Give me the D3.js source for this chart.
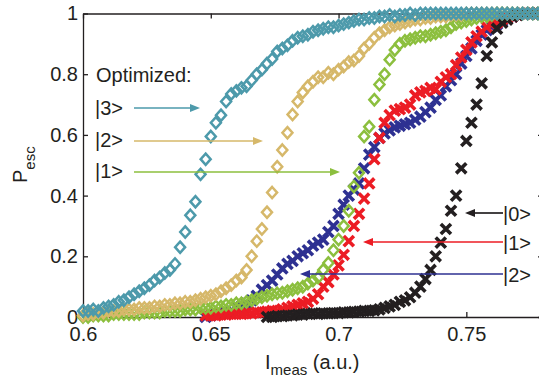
<!DOCTYPE html>
<html>
<head>
<meta charset="utf-8">
<script src="https://cdn.jsdelivr.net/npm/d3@7"></script>
<style>
  body { margin: 0; background: #fff; }
  svg { display: block; }
  text { font-family: "Liberation Sans", Arial, Helvetica, sans-serif; fill: #231f20; }
</style>
</head>
<body>
<svg id="chart" width="539" height="379"></svg>
<script>
// measured current (a.u.), shared by every series
const current = [
  0.600, 0.602, 0.604, 0.606, 0.608, 0.610, 0.612, 0.614, 0.616, 0.618,
  0.620, 0.622, 0.624, 0.626, 0.628, 0.630, 0.632, 0.634, 0.636, 0.638,
  0.640, 0.642, 0.644, 0.646, 0.648, 0.650, 0.652, 0.654, 0.656, 0.658,
  0.660, 0.662, 0.664, 0.666, 0.668, 0.670, 0.672, 0.674, 0.676, 0.678,
  0.680, 0.682, 0.684, 0.686, 0.688, 0.690, 0.692, 0.694, 0.696, 0.698,
  0.700, 0.702, 0.704, 0.706, 0.708, 0.710, 0.712, 0.714, 0.716, 0.718,
  0.720, 0.722, 0.724, 0.726, 0.728, 0.730, 0.732, 0.734, 0.736, 0.738,
  0.740, 0.742, 0.744, 0.746, 0.748, 0.750, 0.752, 0.754, 0.756, 0.758,
  0.760, 0.762, 0.764, 0.766, 0.768, 0.770, 0.772, 0.774, 0.776, 0.778,
  0.780
];

// optimized readout (diamonds)
const opt3 = [
  0.02, 0.02, 0.025, 0.02, 0.03, 0.035, 0.04, 0.05, 0.055, 0.065,
  0.075, 0.085, 0.095, 0.105, 0.12, 0.13, 0.145, 0.155, 0.175, 0.23,
  0.28, 0.335, 0.38, 0.47, 0.52, 0.595, 0.64, 0.665, 0.71, 0.735,
  0.745, 0.755, 0.76, 0.78, 0.80, 0.815, 0.835, 0.85, 0.875, 0.885,
  0.895, 0.91, 0.92, 0.925, 0.93, 0.94, 0.945, 0.95, 0.955, 0.955,
  0.96, 0.965, 0.97, 0.975, 0.98, 0.98, 0.985, 0.985, 0.99, 0.99,
  0.995, 0.99, 0.995, 0.995, 1, 0.995, 1, 1, 1, 1,
  1, 1, 1, 1, 1, 1, 1, 1, 1, 1,
  1, 1, 1, 1, 1, 1, 1, 1, 1, 1,
  1
];
const opt2 = [
  0.005, 0.01, 0.01, 0.015, 0.015, 0.02, 0.02, 0.02, 0.025, 0.025,
  0.025, 0.03, 0.03, 0.03, 0.035, 0.035, 0.04, 0.04, 0.045, 0.045,
  0.05, 0.05, 0.055, 0.06, 0.065, 0.07, 0.075, 0.085, 0.095, 0.105,
  0.12, 0.13, 0.155, 0.2, 0.25, 0.29, 0.345, 0.41, 0.495, 0.55,
  0.607, 0.667, 0.71, 0.74, 0.76, 0.775, 0.79, 0.79, 0.805, 0.80,
  0.815, 0.825, 0.84, 0.845, 0.86, 0.885, 0.90, 0.92, 0.935, 0.945,
  0.955, 0.96, 0.965, 0.97, 0.975, 0.98, 0.98, 0.985, 0.985, 0.99,
  0.99, 0.99, 0.995, 0.995, 0.995, 1, 1, 1, 1, 1,
  1, 1, 1, 1, 1, 1, 1, 1, 1, 1,
  1
];
const opt1 = [
  0, 0, 0.005, 0.005, 0.005, 0.005, 0.01, 0.01, 0.01, 0.01,
  0.01, 0.01, 0.015, 0.015, 0.015, 0.015, 0.02, 0.02, 0.02, 0.02,
  0.025, 0.025, 0.025, 0.03, 0.03, 0.03, 0.035, 0.035, 0.04, 0.04,
  0.045, 0.045, 0.05, 0.055, 0.06, 0.065, 0.07, 0.075, 0.078, 0.08,
  0.085, 0.09, 0.095, 0.10, 0.11, 0.12, 0.13, 0.155, 0.178, 0.22,
  0.255, 0.30, 0.35, 0.43, 0.475, 0.595, 0.627, 0.716, 0.766, 0.80,
  0.848, 0.88, 0.90, 0.91, 0.915, 0.92, 0.925, 0.925, 0.93, 0.935,
  0.94, 0.945, 0.955, 0.965, 0.97, 0.975, 0.98, 0.985, 0.99, 0.99,
  0.995, 1, 1, 1, 1, 1, 1, 1, 1, 1,
  1
];

// standard readout (crosses), null = not measured
const std0 = [
  null, null, null, null, null, null, null, null, null, null,
  null, null, null, null, null, null, null, null, null, null,
  null, null, null, null, null, null, null, null, null, null,
  null, null, null, null, null, null, 0.0, 0.0, 0.003, 0.003,
  0.005, 0.005, 0.008, 0.008, 0.01, 0.012, 0.01, 0.012, 0.012, 0.013,
  0.013, 0.015, 0.015, 0.017, 0.018, 0.02, 0.02, 0.022, 0.025, 0.03,
  0.035, 0.04, 0.05, 0.055, 0.065, 0.08, 0.10, 0.125, 0.155, 0.20,
  0.245, 0.29, 0.35, 0.40, 0.49, 0.58, 0.64, 0.70, 0.77, 0.86,
  0.905, 0.95, 0.97, 0.98, 0.99, 0.995, 1, 1, 1, 1,
  1
];
const std1 = [
  null, null, null, null, null, null, null, null, null, null,
  null, null, null, null, null, null, null, null, null, null,
  null, null, null, null, 0.005, 0.005, 0.005, 0.008, 0.008, 0.01,
  0.01, 0.01, 0.012, 0.012, 0.015, 0.015, 0.018, 0.02, 0.02, 0.025,
  0.03, 0.035, 0.04, 0.045, 0.05, 0.06, 0.075, 0.10, 0.115, 0.14,
  0.17, 0.205, 0.25, 0.30, 0.34, 0.39, 0.44, 0.52, 0.59, 0.64,
  0.665, 0.68, 0.685, 0.69, 0.70, 0.73, 0.74, 0.745, 0.755, 0.75,
  0.775, 0.79, 0.80, 0.83, 0.855, 0.88, 0.905, 0.925, 0.94, 0.955,
  0.965, 0.97, 0.98, 0.985, 0.99, 0.995, 1, 1, 1, 1,
  1
];
const std2 = [
  null, null, null, null, null, null, null, null, null, null,
  null, null, null, null, null, null, null, null, null, null,
  null, null, null, null, 0.0, 0.005, 0.008, 0.01, 0.015, 0.02,
  0.03, 0.035, 0.045, 0.055, 0.07, 0.09, 0.105, 0.12, 0.14, 0.16,
  0.175, 0.185, 0.20, 0.21, 0.22, 0.235, 0.245, 0.255, 0.28, 0.30,
  0.34, 0.37, 0.40, 0.42, 0.44, 0.49, 0.535, 0.56, 0.59, 0.605,
  0.615, 0.625, 0.63, 0.635, 0.64, 0.65, 0.66, 0.675, 0.69, 0.715,
  0.73, 0.76, 0.78, 0.80, 0.835, 0.86, 0.885, 0.91, 0.93, 0.945,
  0.957, 0.965, 0.975, 0.985, 0.99, 0.995, 1, 1, 1, 1,
  1
];

const xTicks = [0.6, 0.65, 0.7, 0.75];
const yTicks = [0, 0.2, 0.4, 0.6, 0.8, 1];

const teal = '#4d9aab', tan = '#d6b86a', green = '#8cbf3e';
const red = '#ec1c24', blue = '#2e3192', black = '#231f20';

const svg = d3.select('#chart');
const margin = { top: 13.5, left: 83, bottom: 62, right: -4 };
const width = 539, height = 379;

const x = d3.scaleLinear().domain([0.6, 0.78]).range([margin.left, width - margin.right]);
const y = d3.scaleLinear().domain([0, 1]).range([height - margin.bottom, margin.top]);

const fmt = d => String(d);

// axes box, ticks inward like matlab
svg.append('g')
  .attr('transform', `translate(0,${y(0)})`)
  .call(d3.axisBottom(x).tickValues(xTicks).tickFormat(fmt).tickSizeInner(-5).tickSizeOuter(0).tickPadding(10));
svg.append('g')
  .attr('transform', `translate(0,${y(1)})`)
  .call(d3.axisTop(x).tickValues(xTicks).tickFormat('').tickSizeInner(-5).tickSizeOuter(0));
svg.append('g')
  .attr('transform', `translate(${x(0.6)},0)`)
  .call(d3.axisLeft(y).tickValues(yTicks).tickFormat(fmt).tickSizeInner(-5).tickSizeOuter(0).tickPadding(5));
svg.append('g')
  .attr('transform', `translate(${x(0.78)},0)`)
  .call(d3.axisRight(y).tickValues(yTicks).tickFormat('').tickSizeInner(-5).tickSizeOuter(0));

svg.selectAll('.domain, .tick line').attr('stroke', black).attr('stroke-width', 1.3);
svg.selectAll('.tick text').attr('font-size', 20).attr('fill', black)
  .attr('font-family', '"Liberation Sans", Arial, sans-serif');

// series
const diamond = 'M0,-5.6L5,0L0,5.6L-5,0Z';
const cross = 'M-3.8,-3.8L3.8,3.8M-3.8,3.8L3.8,-3.8';

function points(values) {
  return current.map((c, i) => ({ c, v: values[i] })).filter(d => d.v !== null);
}

function drawSeries(values, color, shape) {
  const g = svg.append('g');
  g.selectAll('path')
    .data(points(values))
    .enter()
    .append('path')
    .attr('transform', d => `translate(${x(d.c)},${y(d.v)})`)
    .attr('d', shape === 'diamond' ? diamond : cross)
    .attr('fill', 'none')
    .attr('stroke', color)
    .attr('stroke-width', shape === 'diamond' ? 2.5 : 3.6)
    .attr('stroke-linecap', 'square');
}

drawSeries(std2, blue, 'cross');
drawSeries(std1, red, 'cross');
drawSeries(std0, black, 'cross');
drawSeries(opt1, green, 'diamond');
drawSeries(opt2, tan, 'diamond');
drawSeries(opt3, teal, 'diamond');

// annotations
function arrow(x1, x2, yy, color) {
  const dir = x2 > x1 ? 1 : -1;
  svg.append('line')
    .attr('x1', x1).attr('x2', x2 - dir * 8).attr('y1', yy).attr('y2', yy)
    .attr('stroke', color).attr('stroke-width', 1.7);
  svg.append('path')
    .attr('d', `M${x2},${yy}L${x2 - dir * 10},${yy - 4}L${x2 - dir * 10},${yy + 4}Z`)
    .attr('fill', color);
}

function label(tx, ty, str) {
  svg.append('text').attr('x', tx).attr('y', ty).attr('font-size', 20).text(str);
}

label(96, 82, 'Optimized:');
label(95, 115, '|3>');
label(95, 147, '|2>');
label(95, 178, '|1>');
arrow(134, 200, 108, teal);
arrow(134, 263, 141, tan);
arrow(134, 340, 172, green);

label(503, 221, '|0>');
label(503, 250, '|1>');
label(503, 282, '|2>');
arrow(503, 465, 213, black);
arrow(503, 363, 242, red);
arrow(503, 300, 274, blue);

// axis titles
const xl = svg.append('text').attr('x', 265).attr('y', 369).attr('font-size', 20);
xl.append('tspan').text('I');
xl.append('tspan').attr('font-size', 15).attr('dy', 6).text('meas');
xl.append('tspan').attr('dy', -6).text(' (a.u.)');

const yl = svg.append('text').attr('transform', 'translate(27,183) rotate(-90)').attr('font-size', 20);
yl.append('tspan').text('P');
yl.append('tspan').attr('font-size', 15).attr('dy', 8).text('esc');
</script>
</body>
</html>
